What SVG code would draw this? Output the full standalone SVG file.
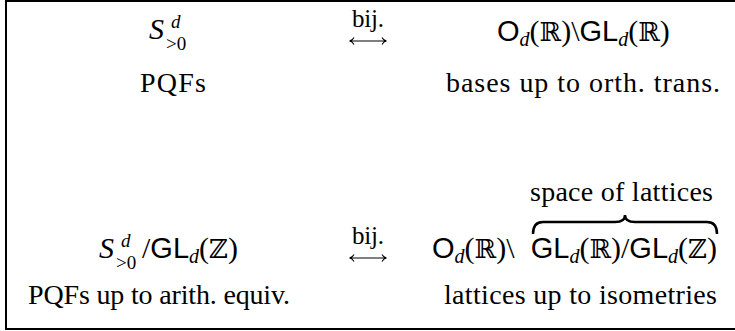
<svg xmlns="http://www.w3.org/2000/svg" width="735" height="331" viewBox="0 0 735 331">
<style>
text{font-family:"Liberation Serif","Times New Roman",serif;fill:#000}
.lb{font-size:28px}
.bij{font-size:25px}
.m{font-size:30px}
.sf{font-family:"Liberation Sans",Arial,sans-serif;font-size:29px}
.it{font-style:italic}
.sc{font-size:20px}
.ss{font-size:19px}
.bb{font-family:"DejaVu Serif","DejaVu Sans",serif;font-size:26px}
.ln{stroke:#000;fill:none}
</style>
<rect width="735" height="331" fill="#fff"/>
<path class="ln" d="M735,1 H6 V329 H735" stroke-width="2"/>

<g id="pqf-top">
<text class="m"><tspan class="it" x="149" y="39">S</tspan><tspan class="ss it" x="171" y="28">d</tspan><tspan class="ss" x="166" y="49.5">&gt;0</tspan></text>
<text class="lb" x="140" y="92" textLength="66" lengthAdjust="spacing">PQFs</text>
</g>

<g id="bases-top">
<text class="m" x="497" y="41"><tspan class="sf">O</tspan><tspan class="sc it" dy="5">d</tspan><tspan dy="-5">(</tspan><tspan class="bb">ℝ</tspan><tspan>)\</tspan><tspan class="sf">GL</tspan><tspan class="sc it" dy="5">d</tspan><tspan dy="-5">(</tspan><tspan class="bb">ℝ</tspan><tspan>)</tspan></text>
<text class="lb" x="446" y="92" textLength="274" lengthAdjust="spacing">bases up to orth. trans.</text>
</g>

<g id="pqf-bottom">
<text class="m"><tspan class="it" x="99" y="258">S</tspan><tspan class="ss it" x="121" y="247">d</tspan><tspan class="ss" x="116" y="268.5">&gt;0</tspan><tspan x="142" y="258">/</tspan><tspan class="sf">GL</tspan><tspan class="sc it" dy="5">d</tspan><tspan dy="-5">(</tspan><tspan class="bb">ℤ</tspan><tspan>)</tspan></text>
<text class="lb" x="28" y="304" textLength="262" lengthAdjust="spacing">PQFs up to arith. equiv.</text>
</g>

<g id="lattices-bottom">
<text class="m" x="432" y="258"><tspan class="sf">O</tspan><tspan class="sc it" dy="5">d</tspan><tspan dy="-5">(</tspan><tspan class="bb">ℝ</tspan><tspan>)\</tspan></text>
<text class="m" x="717" y="258" text-anchor="end"><tspan class="sf">GL</tspan><tspan class="sc it" dy="5">d</tspan><tspan dy="-5">(</tspan><tspan class="bb">ℝ</tspan><tspan>)/</tspan><tspan class="sf">GL</tspan><tspan class="sc it" dy="5">d</tspan><tspan dy="-5">(</tspan><tspan class="bb">ℤ</tspan><tspan>)</tspan></text>
<path class="ln" stroke-width="2.5" d="M533,234 Q533,222 543,222 L615,222 Q625,222 625,215 Q625,222 635,222 L707,222 Q717,222 717,234"/>
<text class="lb" x="530" y="201" textLength="183" lengthAdjust="spacing">space of lattices</text>
<text class="lb" x="444" y="304" textLength="273" lengthAdjust="spacing">lattices up to isometries</text>
</g>

<g id="connectors">
<text class="bij" x="352" y="27" textLength="32" lengthAdjust="spacing">bij.</text>
<path class="ln" stroke-width="1.1" d="M350,41 H386 M354,37.5 Q352.5,40.5 349.5,41 Q352.5,41.5 354,44.5 M382,37.5 Q383.5,40.5 386.5,41 Q383.5,41.5 382,44.5"/>
<text class="bij" x="352" y="244" textLength="32" lengthAdjust="spacing">bij.</text>
<path class="ln" stroke-width="1.1" d="M350,258 H386 M354,254.5 Q352.5,257.5 349.5,258 Q352.5,258.5 354,261.5 M382,254.5 Q383.5,257.5 386.5,258 Q383.5,258.5 382,261.5"/>
</g>
</svg>
